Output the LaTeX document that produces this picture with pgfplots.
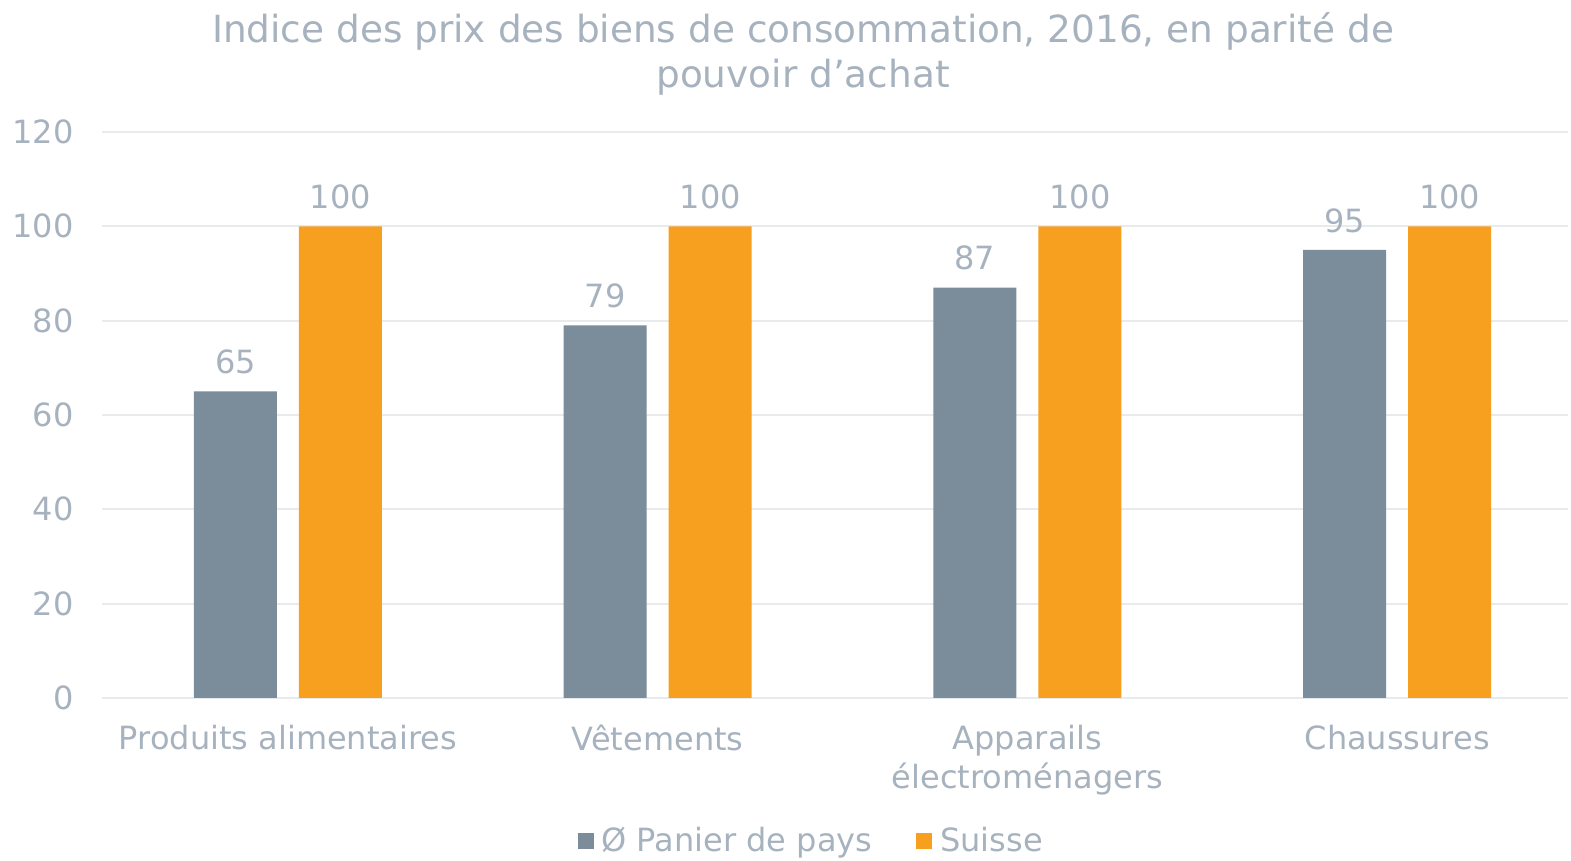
\documentclass[border=0pt]{standalone}
\usepackage{pgfplots}
\pgfplotsset{compat=1.18}
\usepackage{fontspec}
\setmainfont{DejaVu Sans}
\definecolor{txt}{HTML}{A7B2BF}
\definecolor{grayb}{HTML}{7B8C9B}
\definecolor{orng}{HTML}{F79F1F}
\definecolor{gridc}{HTML}{E8EBEE}
\begin{document}
\begin{tikzpicture}[x=1pt,y=1pt]
\useasboundingbox (0,0) rectangle (785.5,430.5);
\node[align=center, text=txt, font=\fontsize{18.7}{22.5}\selectfont, anchor=north] at (401.5,427.5) {Indice des prix des biens de consommation, 2016, en parité de\\pouvoir d’achat};
\begin{axis}[
  at={(51pt,81.5pt)}, anchor=south west,
  width=733pt, height=283pt, scale only axis,
  xmin=-0.503, xmax=3.462, ymin=0, ymax=120,
  ytick={0,20,...,120},
  xtick={0,1,2,3},
  xticklabels={Produits alimentaires, Vêtements, Apparails\\électroménagers, Chaussures},
  ymajorgrids, grid style={draw=gridc, line width=1pt},
  axis line style={draw=none},
  major tick length=0pt,
  tick label style={text=txt, font=\fontsize{16}{19.5}\selectfont},
  yticklabel style={anchor=east, inner sep=0pt, xshift=-14pt},
  xticklabel style={align=center, anchor=north, inner sep=0pt, yshift=-13.5pt},
  /pgf/number format/assume math mode=true,
  ybar=11pt, bar width=41.5pt,
  nodes near coords,
  every node near coord/.append style={text=txt, font=\fontsize{16}{19.5}\selectfont, anchor=south, inner sep=0pt, yshift=8.5pt},
  legend columns=2,
  legend style={at={(0.4858,-0.253)}, anchor=center, draw=none, fill=none,
    nodes={inner xsep=4pt, inner ysep=2pt, text=txt, font=\fontsize{16}{19.5}\selectfont},
    /tikz/every even column/.append style={column sep=18pt}},
  legend image code/.code={\fill[#1, draw=none] (0pt,-4pt) rectangle (8pt,4pt);},
]
\addplot[fill=grayb, draw=none] coordinates {(0,65) (1,79) (2,87) (3,95)};
\addplot[fill=orng, draw=none] coordinates {(0,100) (1,100) (2,100) (3,100)};
\legend{Ø Panier de pays, Suisse}
\end{axis}
\end{tikzpicture}
\end{document}
